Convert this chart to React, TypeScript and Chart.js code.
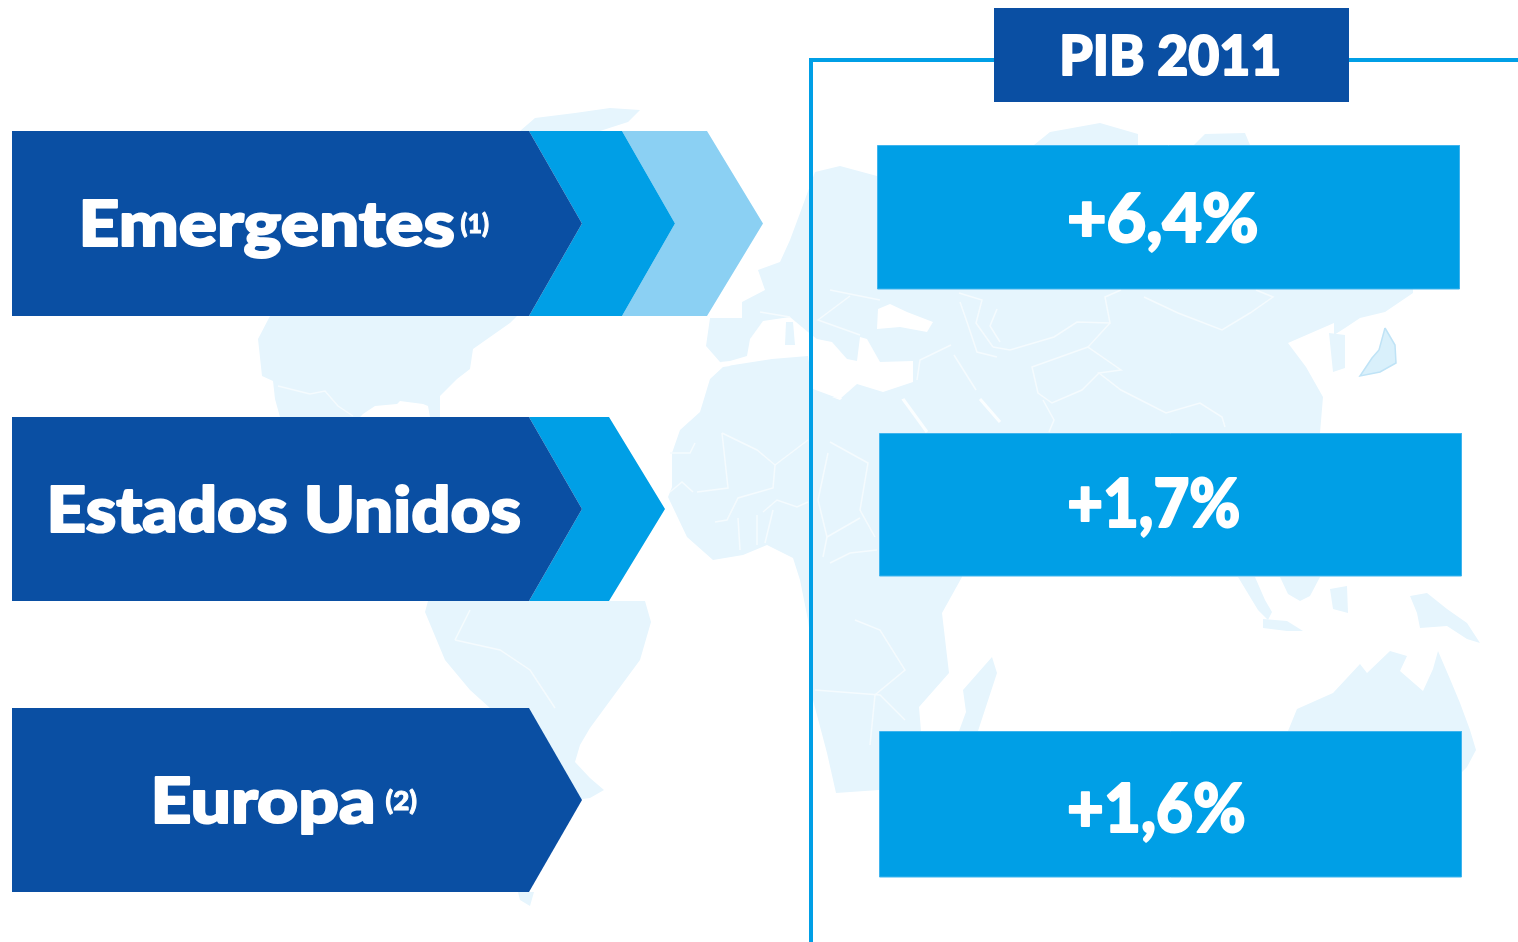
import React, { useEffect, useRef } from "react";
import { Chart, registerables } from "chart.js";

Chart.register(...registerables);

// ---- content ----
const regions = ["Emergentes", "Estados Unidos", "Europa"];
const regionNotes = ["(1)", "", "(2)"];
const gdp2011 = [6.4, 1.7, 1.6];
const headerTitle = "PIB 2011";

// ---- palette ----
const DARK = "#0a4fa3";
const MID = "#009fe6";
const LIGHT = "#8bd0f3";
const LAND = "#e6f5fd";
const BORDER = "#f5fbfe";
const EDGE = "#3fb4ee";

// ---- axis-space geometry (drawn through the scales) ----
type P = [number, number];
const arrowRows: P[] = [[131, 316], [417, 601], [708, 892]]; // top, bottom
const arrowLeft = 12;
const arrowBodyEnd = 529;
const arrowTip = 582;
const arrowBands: P[][] = [[[622, 675], [707, 763]], [[609, 665]], []];
const valueBoxes = [
  [877.5, 1459.5, 145.5, 289],
  [879.5, 1461.5, 433.5, 576],
  [879.5, 1461.5, 731.5, 877],
];
const headerBox = [994, 1349, 8, 102];

const landShapes: P[][] = [
  // Greenland
  [[520, 131], [535, 118], [575, 113], [610, 108], [640, 110], [628, 122], [600, 131]],
  // North America
  [[270, 316], [258, 339], [262, 376], [273, 381], [275, 399], [280, 417], [360, 417], [363, 414], [375, 406], [397, 404], [400, 401], [423, 404], [428, 406], [430, 417], [440, 417], [440, 396], [457, 379], [470, 369], [473, 349], [510, 323], [517, 316]],
  // South America
  [[428, 601], [645, 601], [651, 622], [640, 660], [612, 698], [590, 728], [580, 745], [575, 762], [590, 778], [604, 790], [590, 798], [575, 800], [520, 708], [490, 708], [470, 690], [445, 660], [425, 612]],
  [[518, 892], [534, 892], [530, 906], [520, 900]],
  // Eurasia
  [[815, 172], [840, 166], [877, 176], [877, 280], [1334, 280], [1334, 323], [1288, 343], [1306, 367], [1323, 397], [1320, 433], [925, 433], [903, 399], [860, 400], [813, 395], [720, 362], [706, 346], [710, 318], [742, 318], [742, 302], [765, 290], [758, 270], [780, 262], [790, 240], [803, 205]],
  // Top of Eurasia above the first box
  [[1034, 145], [1050, 132], [1100, 123], [1138, 134], [1138, 145]],
  [[1194, 145], [1205, 134], [1245, 133], [1250, 145]],
  // Far east
  [[1334, 280], [1413, 280], [1413, 293], [1385, 312], [1360, 318], [1345, 328], [1334, 335]],
  // Korea
  [[1329, 333], [1345, 335], [1345, 368], [1333, 372]],
  // Africa
  [[723, 367], [772, 360], [808, 357], [813, 390], [840, 400], [857, 385], [883, 393], [900, 397], [927, 433], [962, 577], [942, 613], [949, 673], [919, 707], [921, 731], [879, 731], [879, 790], [836, 793], [827, 753], [813, 700], [813, 660], [808, 620], [800, 580], [793, 558], [767, 545], [743, 555], [713, 560], [687, 537], [668, 497], [672, 487], [672, 453], [680, 430], [700, 412], [710, 379]],
  // Sumatra, Malay peninsula, Java, Borneo, New Guinea
  [[1238, 577], [1255, 577], [1265, 600], [1272, 612], [1268, 620], [1258, 610]],
  [[1280, 577], [1320, 577], [1310, 596], [1300, 601], [1288, 594]],
  [[1263, 619], [1287, 621], [1303, 631], [1287, 631], [1263, 628]],
  [[1330, 589], [1347, 586], [1348, 613], [1333, 609]],
  [[1410, 596], [1427, 593], [1447, 609], [1467, 623], [1480, 643], [1467, 639], [1447, 626], [1420, 628], [1417, 613]],
  // Madagascar
  [[963, 690], [992, 657], [997, 673], [978, 731], [959, 731], [966, 712]],
  // Australia
  [[1288, 731], [1297, 709], [1333, 693], [1360, 664], [1367, 673], [1390, 651], [1407, 656], [1400, 671], [1423, 691], [1433, 669], [1438, 651], [1450, 679], [1460, 703], [1470, 730], [1476, 750], [1467, 767], [1462, 772], [1462, 731]],
];

const seaShapes: P[][] = [
  // Black Sea
  [[878, 309], [890, 304], [907, 312], [933, 322], [927, 332], [900, 327], [877, 329]],
  // Mediterranean
  [[720, 362], [730, 361], [747, 356], [750, 339], [763, 321], [790, 317], [808, 332], [817, 339], [832, 342], [847, 359], [857, 361], [860, 337], [867, 339], [880, 362], [913, 361], [913, 382], [883, 392], [857, 384], [840, 399], [813, 389], [808, 356], [772, 359], [727, 366]],
];

const islands: P[][] = [[[786, 322], [793, 322], [795, 345], [785, 345]]];

const seaLines: P[][] = [
  [[903, 399], [927, 432]],
  [[980, 399], [1000, 422]],
];

const borderLines: P[][] = [
  [[722, 433], [728, 488], [697, 492]],
  [[722, 433], [757, 450], [775, 465], [773, 488], [738, 498], [727, 520], [715, 522]],
  [[775, 465], [808, 440]],
  [[670, 453], [690, 453], [695, 443]],
  [[693, 492], [682, 482], [670, 492]],
  [[763, 512], [777, 500], [797, 507], [808, 502]],
  [[738, 518], [740, 550]],
  [[757, 515], [757, 545]],
  [[773, 510], [765, 543]],
  [[830, 442], [868, 463], [860, 510], [875, 537]],
  [[828, 453], [818, 500], [827, 537], [860, 518]],
  [[827, 537], [823, 557]],
  [[830, 563], [850, 553], [877, 550]],
  [[855, 620], [880, 630], [905, 670], [875, 695], [870, 745]],
  [[815, 690], [880, 695], [905, 720]],
  [[993, 347], [1010, 350], [1054, 337], [1077, 322], [1110, 323], [1105, 297], [1121, 290]],
  [[1144, 297], [1178, 313], [1222, 330], [1250, 313], [1273, 297], [1256, 290]],
  [[1110, 323], [1088, 347], [1121, 370], [1099, 373], [1121, 390], [1166, 413], [1200, 403], [1222, 417], [1225, 427]],
  [[1088, 347], [1060, 357], [1032, 367], [1038, 393], [1052, 403], [1082, 390], [1099, 373]],
  [[1043, 400], [1054, 420], [1049, 432]],
  [[951, 345], [920, 360], [917, 380]],
  [[954, 355], [976, 390]],
  [[960, 302], [967, 322], [977, 352], [997, 357]],
  [[997, 309], [990, 326], [1000, 342]],
  [[959, 293], [982, 300], [976, 323], [993, 347]],
  [[850, 296], [818, 320], [860, 335]],
  [[830, 290], [880, 300]],
  [[760, 312], [790, 317]],
  [[455, 640], [500, 650], [530, 670], [555, 708]],
  [[470, 610], [455, 640]],
  [[278, 386], [310, 394], [325, 391], [338, 406], [353, 416]],
];

const japan: P[] = [[1385, 328], [1395, 345], [1396, 363], [1380, 372], [1360, 376], [1372, 358], [1379, 350], [1385, 328]];

const ruleLeft: P[] = [[811, 942], [811, 60], [994, 60]];
const ruleRight: P[] = [[1349, 60], [1518, 60]];

// ---- text placement: x extent and baseline in axis space ----
const regionExtents = [[82, 455, 246], [50, 521, 532], [154, 374, 823]];
const noteExtents = [[460, 489, 233], null, [385, 417, 810]];
const valueExtents = [[1068, 1258, 242], [1068, 1240, 527], [1068, 1245, 832]];
const headerExtent = [1062, 1280, 75];

const fmt = (v: number) => "+" + v.toFixed(1).replace(".", ",") + "%";
const toPts = (p: P[]) => p.map(([x, y]) => ({ x, y }));
const rect = ([x0, x1, y0, y1]: number[]): P[] => [[x0, y0], [x1, y0], [x1, y1], [x0, y1], [x0, y0]];

const shape = (name: string, pts: P[], color: string, order: number, edge?: string, edgeWidth = 0) => ({
  label: name,
  data: toPts(pts),
  showLine: true,
  fill: "shape",
  backgroundColor: color,
  borderWidth: edgeWidth,
  borderColor: edge || color,
  pointRadius: 0,
  tension: 0,
  order,
});
const stroke = (name: string, pts: P[], color: string, width: number, order: number) => ({
  label: name,
  data: toPts(pts),
  showLine: true,
  fill: false,
  borderColor: color,
  borderWidth: width,
  pointRadius: 0,
  tension: 0,
  borderJoinStyle: "miter",
  order,
});

function buildDatasets() {
  const out: any[] = [];
  landShapes.forEach((s, i) => out.push(shape("land" + i, s, LAND, 100)));
  seaShapes.forEach((s, i) => out.push(shape("sea" + i, s, "#ffffff", 90)));
  islands.forEach((s, i) => out.push(shape("island" + i, s, LAND, 88)));
  seaLines.forEach((s, i) => out.push(stroke("gulf" + i, s, "#fbfeff", 3, 85)));
  borderLines.forEach((s, i) => out.push(stroke("border" + i, s, BORDER, 1.5, 80)));
  out.push(shape("japan", japan, "#d9f0fb", 70, "#bfe3f6", 1.5));
  out.push(stroke("ruleLeft", ruleLeft, MID, 4, 60));
  out.push(stroke("ruleRight", ruleRight, MID, 4, 60));
  out.push(shape("header", rect(headerBox), DARK, 50));
  valueBoxes.forEach((b, i) => out.push(shape(regions[i] + " PIB", rect(b), MID, 40, EDGE, 1)));
  arrowRows.forEach(([top, bottom], i) => {
    const mid = (top + bottom) / 2;
    out.push(
      shape(regions[i], [[arrowLeft, top], [arrowBodyEnd, top], [arrowTip, mid], [arrowBodyEnd, bottom], [arrowLeft, bottom]], DARK, 10),
    );
    let prevEnd = arrowBodyEnd;
    let prevTip = arrowTip;
    arrowBands[i].forEach(([end, tip], b) => {
      out.push(
        shape(regions[i] + " band" + b, [[prevEnd, top], [end, top], [tip, mid], [end, bottom], [prevEnd, bottom], [prevTip, mid]], b === 0 ? MID : LIGHT, 20 + b),
      );
      prevEnd = end;
      prevTip = tip;
    });
  });
  return out;
}

const fittedText = {
  id: "fittedText",
  afterDatasetsDraw(chart: any) {
    const { ctx, scales } = chart;
    const { x, y } = scales;
    const draw = (text: string, ext: number[] | null, size: number, weight: number) => {
      if (!ext || !text) return;
      const [x0, x1, base] = ext;
      const left = x.getPixelForValue(x0) + weight / 2;
      const right = x.getPixelForValue(x1) - weight / 2;
      const py = y.getPixelForValue(base);
      ctx.save();
      ctx.font = `900 ${size}px Lato, "Noto Sans", sans-serif`;
      ctx.textAlign = "left";
      ctx.textBaseline = "alphabetic";
      ctx.fillStyle = "#ffffff";
      ctx.strokeStyle = "#ffffff";
      ctx.lineWidth = weight;
      ctx.lineJoin = "round";
      const m = ctx.measureText(text);
      const inkL = -m.actualBoundingBoxLeft;
      const inkW = m.actualBoundingBoxRight + m.actualBoundingBoxLeft;
      const sx = (right - left) / inkW;
      ctx.translate(left, py);
      ctx.scale(sx, 1);
      ctx.fillText(text, -inkL, 0);
      ctx.strokeText(text, -inkL, 0);
      ctx.restore();
    };
    regions.forEach((r, i) => {
      draw(r, regionExtents[i], 63, 2);
      draw(regionNotes[i], noteExtents[i], 27, 1);
    });
    gdp2011.forEach((v, i) => draw(fmt(v), valueExtents[i], 66, 2));
    draw(headerTitle, headerExtent, 56, 2);
  },
};

export default function App() {
  const ref = useRef<HTMLCanvasElement>(null);
  useEffect(() => {
    if (!ref.current) return;
    const chart = new Chart(ref.current, {
      type: "scatter",
      data: { datasets: buildDatasets() },
      options: {
        animation: false,
        responsive: false,
        devicePixelRatio: 1,
        layout: { padding: 0 },
        events: [],
        scales: {
          x: { type: "linear", min: 0, max: 1518, display: false },
          y: { type: "linear", min: 0, max: 942, reverse: true, display: false },
        },
        plugins: {
          legend: { display: false },
          title: { display: false },
          tooltip: { enabled: false },
        },
      },
      plugins: [fittedText],
    } as any);
    return () => chart.destroy();
  }, []);
  return (
    <div style={{ position: "absolute", left: 0, top: 0, width: 1518, height: 942, background: "#fff", overflow: "hidden" }}>
      <canvas ref={ref} width={1518} height={942} style={{ display: "block" }} />
    </div>
  );
}
